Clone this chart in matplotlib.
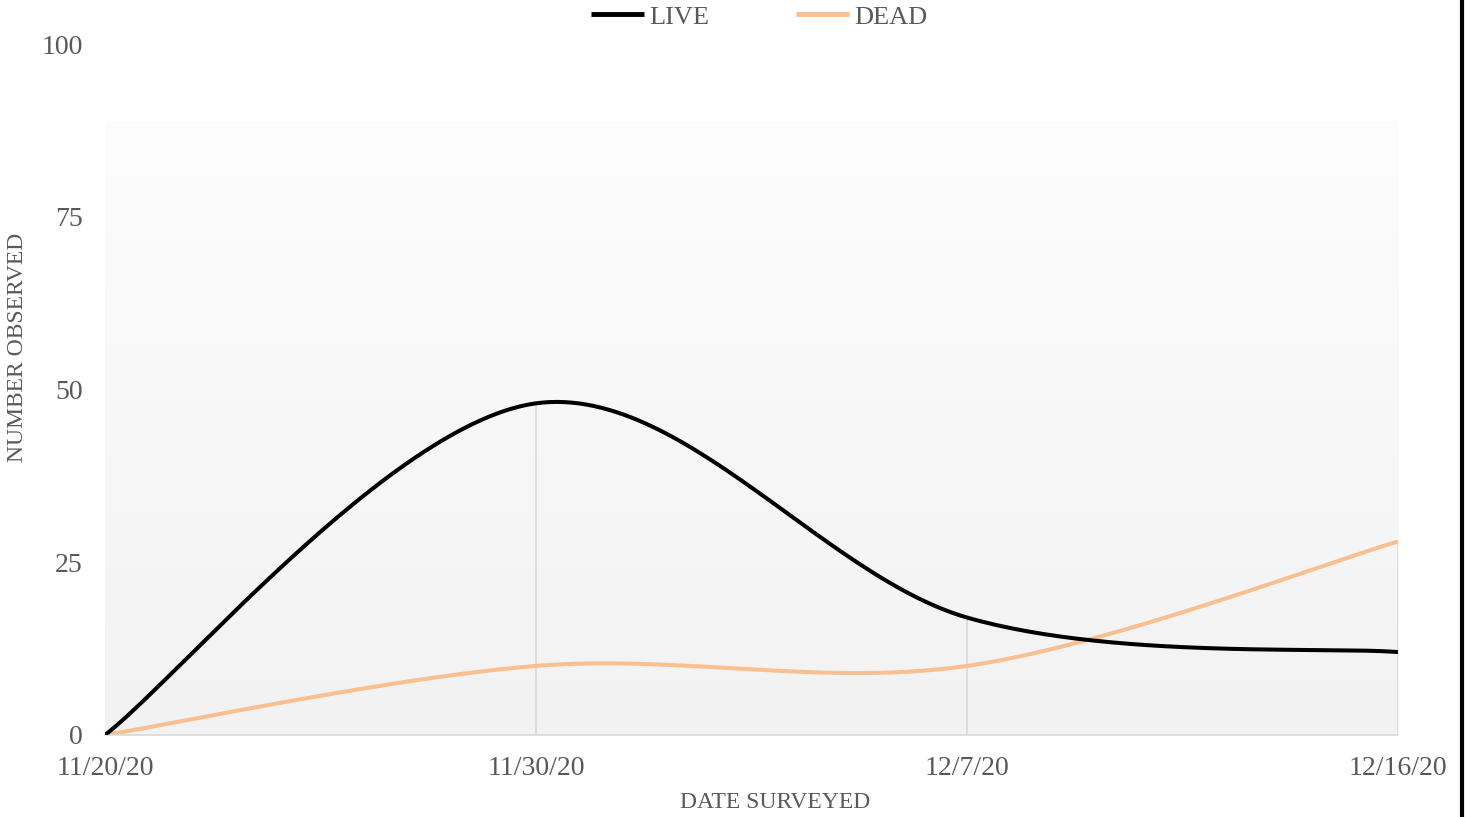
import numpy as np
import matplotlib.pyplot as plt
from matplotlib.lines import Line2D

# data
dates = ["11/20/20", "11/30/20", "12/7/20", "12/16/20"]
live = [0, 48, 17, 12]
dead = [0, 10, 10, 28]
y_ticks = [0, 25, 50, 75, 100]

TEXT = "#595959"
ORANGE = "#FABF8F"
plt.rcParams['font.family'] = ['Liberation Serif', 'DejaVu Serif']


def smooth(xs, ys, n=60):
    """ Excel style smoothed line: bezier segments with 1/6 control points. """
    pts = np.column_stack([xs, ys]).astype(float)
    pad = np.vstack([pts[:1], pts, pts[-1:]])
    out = []
    for i in range(len(pts) - 1):
        p0, p1, p2, p3 = pad[i], pad[i + 1], pad[i + 2], pad[i + 3]
        c1 = p1 + (p2 - p0) / 6
        c2 = p2 - (p3 - p1) / 6
        t = np.linspace(0, 1, n)[:, None]
        seg = ((1 - t) ** 3 * p1 + 3 * t * (1 - t) ** 2 * c1
               + 3 * t ** 2 * (1 - t) * c2 + t ** 3 * p2)
        out.append(seg if i == 0 else seg[1:])
    out = np.vstack(out)
    return out[:, 0], out[:, 1]


fig = plt.figure(figsize=(14.66, 8.17), dpi=100)
ax = fig.add_axes([105 / 1466, 82 / 817, 1293 / 1466, 691 / 817])

x = np.arange(len(dates))

# gradient fill of the plot area
grad = np.linspace(0, 1, 256)[:, None]
top = np.array([253, 253, 253]) / 255
bottom = np.array([242, 242, 242]) / 255
img = top + (bottom - top) * grad[:, :, None]
ax.imshow(img, extent=(0, len(dates) - 1, 0, 88.8), aspect='auto',
          origin='upper', zorder=0, interpolation='bilinear')

# drop lines
highs = np.maximum(live, dead)
ax.vlines(x[1:], 0, highs[1:], color="#d9d9d9", linewidth=1.2, zorder=1)

lx, ly = smooth(x, live)
dx, dy = smooth(x, dead)
ax.plot(lx, ly, color="black", linewidth=2.9, label="LIVE", zorder=3,
        solid_capstyle='butt')
ax.plot(dx, dy, color=ORANGE, linewidth=2.9, label="DEAD", zorder=2,
        solid_capstyle='butt')

ax.set_xlim(0, len(dates) - 1)
ax.set_ylim(0, 100)
ax.set_xticks(x)
ax.set_xticklabels(dates)
ax.set_yticks(y_ticks)
ax.tick_params(axis='both', length=0, labelsize=20, labelcolor=TEXT)
ax.tick_params(axis='x', pad=15)
ax.tick_params(axis='y', pad=16)

for side in ["top", "right", "left"]:
    ax.spines[side].set_visible(False)
ax.spines["bottom"].set_color("#d9d9d9")
ax.spines["bottom"].set_linewidth(1.2)
ax.patch.set_alpha(0)

fig.text(775 / 1466, 1 - 803 / 817, "DATE SURVEYED", ha='center', va='center',
         fontsize=17, color=TEXT)
fig.text(18 / 1466, 1 - 347 / 817, "NUMBER OBSERVED", ha='center', va='center',
         rotation=90, fontsize=17, color=TEXT)

leg = ax.legend(loc='center', bbox_to_anchor=(759 / 1466, 1 - 17 / 817),
                bbox_transform=fig.transFigure, ncol=2, frameon=False,
                fontsize=19, labelcolor=TEXT, handlelength=2.0,
                handletextpad=0.2, columnspacing=3.3)
for h in leg.legend_handles:
    h.set_linewidth(3.5)

# black border on the right
fig.add_artist(Line2D([1462 / 1466, 1462 / 1466], [0, 1], color="black",
                      linewidth=3, transform=fig.transFigure))

fig.savefig("out.png", dpi=100)
